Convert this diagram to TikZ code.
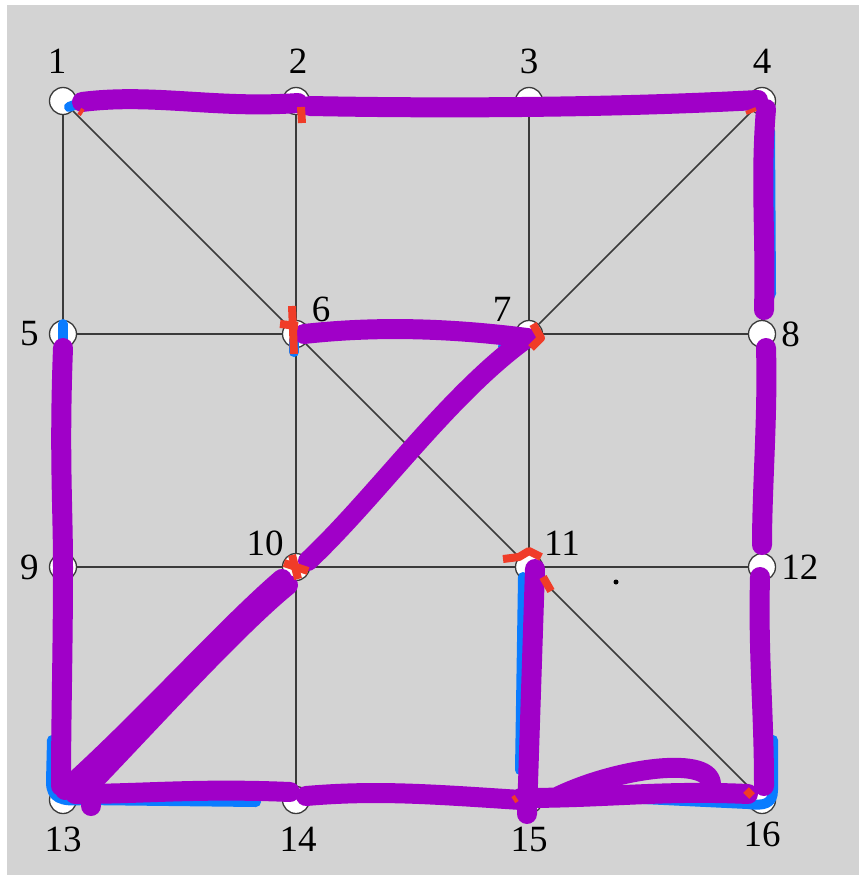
\documentclass[tikz,border=0pt]{standalone}
\usepackage{fontspec}
\setmainfont{Liberation Serif}
\usetikzlibrary{positioning,backgrounds}
\definecolor{bggrey}{HTML}{D3D3D3}
\definecolor{edgegrey}{HTML}{3A3A3A}
\definecolor{pen}{HTML}{A000C8}
\definecolor{penblue}{HTML}{0A7CFF}
\definecolor{penred}{HTML}{F03C28}

\begin{document}
\begin{tikzpicture}[
  x=1pt, y=-1pt,
  vtx/.style={circle, draw=edgegrey, line width=1.3pt, fill=white, minimum size=27pt, inner sep=0pt},
  lbl/.style={font=\fontsize{37}{37}\selectfont, inner sep=0pt, text=black},
  edge/.style={draw=edgegrey, line width=1.5pt},
  scrib/.style={draw=pen, line width=20pt, line cap=round, line join=round},
  bscrib/.style={draw=penblue, line width=10pt, line cap=round, line join=round},
  redmark/.style={draw=penred, line width=8pt, line join=round},
]
\useasboundingbox (0,0) rectangle (859,875);

% ---------- vertices ----------
\node[vtx] (n1)  at (63,101)  {};
\node[vtx] (n2)  at (296,101) {};
\node[vtx] (n3)  at (529,101) {};
\node[vtx] (n4)  at (762,101) {};
\node[vtx] (n5)  at (63,334)  {};
\node[vtx] (n6)  at (296,334) {};
\node[vtx] (n7)  at (529,334) {};
\node[vtx] (n8)  at (762,334) {};
\node[vtx] (n9)  at (63,567)  {};
\node[vtx] (n10) at (296,567) {};
\node[vtx] (n11) at (529,567) {};
\node[vtx] (n12) at (762,567) {};
\node[vtx] (n13) at (63,800)  {};
\node[vtx] (n14) at (296,800) {};
\node[vtx] (n15) at (529,800) {};
\node[vtx] (n16) at (762,800) {};

% ---------- labels ----------
\node[lbl] (l1)  at (57,61)   {1};
\node[lbl] (l2)  at (298,61)  {2};
\node[lbl] (l3)  at (529,61)  {3};
\node[lbl] (l4)  at (762,61)  {4};
\node[lbl, left=10pt of n5]  (l5) {5};
\node[lbl] (l6)  at (321,309) {6};
\node[lbl] (l7)  at (502,309) {7};
\node[lbl, right=5pt of n8]  (l8) {8};
\node[lbl, left=10pt of n9]  (l9) {9};
\node[lbl] (l10) at (265,543) {10};
\node[lbl] (l11) at (562,543) {11};
\node[lbl, right=5pt of n12] (l12) {12};
\node[lbl] (l13) at (63,839)  {13};
\node[lbl] (l14) at (298,839) {14};
\node[lbl] (l15) at (529,839) {15};
\node[lbl] (l16) at (762,834) {16};

\node[circle, fill=black, inner sep=0pt, minimum size=5pt] (dot) at (616,582) {};

% ---------- grid (background) ----------
\begin{scope}[on background layer]
  \fill[bggrey] (7,5) rectangle (859,875);
  \draw[edge] (n1) -- (n2) -- (n3) -- (n4);
  \draw[edge] (n5) -- (n6) -- (n7) -- (n8);
  \draw[edge] (n9) -- (n10) -- (n11) -- (n12);
  \draw[edge] (n13) -- (n14) -- (n15) -- (n16);
  \draw[edge] (n1) -- (n5) -- (n9) -- (n13);
  \draw[edge] (n2) -- (n6) -- (n10) -- (n14);
  \draw[edge] (n3) -- (n7) -- (n11) -- (n15);
  \draw[edge] (n4) -- (n8) -- (n12) -- (n16);
  \draw[edge] (n1) -- (n6) -- (n11) -- (n16);
  \draw[edge] (n4) -- (n7) -- (n10) -- (n13);
\end{scope}

% ---------- blue strokes ----------
\draw[bscrib] ([shift={(6,6)}]n1.center) -- ([shift={(22,0)}]n1.center);
\draw[bscrib] ([shift={(0,-10)}]n5.center) -- ([shift={(0,12)}]n5.center);
\draw[bscrib] ([shift={(-11,-60)}]n13.center) -- ([shift={(-12,-18)}]n13.center)
  .. controls ([shift={(-12,-2)}]n13.center) and ([shift={(-2,2)}]n13.center) .. ([shift={(20,0)}]n13.center)
  -- ([shift={(-40,2)}]n14.center);
\draw[bscrib] ([shift={(11,-60)}]n16.center) -- ([shift={(11,-10)}]n16.center)
  .. controls ([shift={(11,4)}]n16.center) and ([shift={(2,6)}]n16.center) .. ([shift={(-14,4)}]n16.center)
  -- ([shift={(-140,-2)}]n16.center);
\draw[bscrib] ([shift={(-6,10)}]n11.center) -- ([shift={(-9,-30)}]n15.center);
\draw[bscrib] ([shift={(8,30)}]n4.center) -- ([shift={(9,-40)}]n8.center);
\draw[bscrib] ([shift={(-2,6)}]n6.center) -- ([shift={(-2,18)}]n6.center);
\draw[bscrib] ([shift={(-26,12)}]n7.center) -- ([shift={(-12,10)}]n7.center);

% ---------- purple strokes ----------
\draw[scrib] ([shift={(19,1)}]n1.center)
  .. controls ([shift={(90,-8)}]n1.center) and ([shift={(-80,8)}]n2.center) .. ([shift={(2,2)}]n2.center);
\draw[scrib] ([shift={(14,5)}]n2.center)
  .. controls ([shift={(-120,7)}]n3.center) and ([shift={(60,8)}]n3.center) .. ([shift={(-4,-1)}]n4.center);
\draw[scrib] ([shift={(4,8)}]n4.center)
  .. controls ([shift={(-2,80)}]n4.center) and ([shift={(4,-100)}]n8.center) .. ([shift={(2,-24)}]n8.center);
\draw[scrib] ([shift={(4,14)}]n8.center)
  .. controls ([shift={(6,80)}]n8.center) and ([shift={(0,-80)}]n12.center) .. ([shift={(0,-22)}]n12.center);
\draw[scrib] ([shift={(-2,10)}]n12.center)
  .. controls ([shift={(-4,90)}]n12.center) and ([shift={(2,-90)}]n16.center) .. ([shift={(2,-14)}]n16.center);
\draw[scrib] ([shift={(-14,-6)}]n16.center)
  .. controls ([shift={(-100,-10)}]n16.center) and ([shift={(80,-2)}]n15.center) .. ([shift={(-8,-2)}]n15.center);
\draw[scrib] ([shift={(30,-4)}]n15.center)
  .. controls ([shift={(-140,-34)}]n16.center) and ([shift={(-40,-46)}]n16.center) .. ([shift={(-52,-10)}]n16.center);
\draw[scrib] ([shift={(-8,0)}]n15.center)
  .. controls ([shift={(-100,-6)}]n15.center) and ([shift={(80,-10)}]n14.center) .. ([shift={(10,-4)}]n14.center);
\draw[scrib] ([shift={(-6,-8)}]n14.center)
  .. controls ([shift={(-100,-12)}]n14.center) and ([shift={(80,-6)}]n13.center) .. ([shift={(12,-6)}]n13.center);
\draw[scrib] ([shift={(28,-6)}]n13.center) -- ([shift={(28,6)}]n13.center);
\draw[scrib] ([shift={(2,-10)}]n13.center)
  .. controls ([shift={(80,-80)}]n13.center) and ([shift={(-70,60)}]n10.center) .. ([shift={(-14,12)}]n10.center);
\draw[scrib] ([shift={(18,-6)}]n13.center)
  .. controls ([shift={(80,-70)}]n13.center) and ([shift={(-60,60)}]n10.center) .. ([shift={(-8,18)}]n10.center);
\draw[scrib] ([shift={(12,-6)}]n10.center)
  .. controls ([shift={(80,-70)}]n10.center) and ([shift={(-80,60)}]n7.center) .. ([shift={(-2,4)}]n7.center);
\draw[scrib] ([shift={(-2,4)}]n7.center)
  .. controls ([shift={(-80,-6)}]n7.center) and ([shift={(80,-8)}]n6.center) .. ([shift={(8,0)}]n6.center);
\draw[scrib] ([shift={(0,14)}]n5.center)
  .. controls ([shift={(-4,120)}]n5.center) and ([shift={(0,-60)}]n9.center) .. ([shift={(0,0)}]n9.center)
  .. controls ([shift={(0,80)}]n9.center) and ([shift={(-2,-80)}]n13.center) .. ([shift={(-2,-14)}]n13.center);
\draw[scrib] ([shift={(6,2)}]n11.center) -- ([shift={(-2,14)}]n15.center);

% ---------- red marks ----------
\draw[redmark] ([shift={(5,6)}]n2.center) -- ([shift={(6,22)}]n2.center);
\draw[redmark] ([shift={(-4,-28)}]n6.center) -- ([shift={(-2,20)}]n6.center);
\draw[redmark] ([shift={(-16,-10)}]n6.center) -- ([shift={(2,-8)}]n6.center);
\draw[redmark] ([shift={(4,-10)}]n7.center) -- ([shift={(12,4)}]n7.center) -- ([shift={(2,14)}]n7.center);
\draw[redmark] ([shift={(-12,-4)}]n10.center) -- ([shift={(12,4)}]n10.center);
\draw[redmark] ([shift={(-4,-12)}]n10.center) -- ([shift={(2,12)}]n10.center);
\draw[redmark] ([shift={(-26,-8)}]n11.center) -- ([shift={(-10,-10)}]n11.center) -- ([shift={(0,-16)}]n11.center) -- ([shift={(12,-10)}]n11.center);
\draw[redmark] ([shift={(14,10)}]n11.center) -- ([shift={(22,24)}]n11.center);
\draw[redmark] ([shift={(-16,-10)}]n16.center) -- ([shift={(-10,-4)}]n16.center);
\draw[redmark, line width=4pt] ([shift={(-16,12)}]n4.center) -- ([shift={(-6,8)}]n4.center);
\draw[redmark, line width=4pt] ([shift={(16,14)}]n1.center) -- ([shift={(20,8)}]n1.center);
\draw[redmark, line width=4pt] ([shift={(-16,-4)}]n15.center) -- ([shift={(-12,2)}]n15.center);
\end{tikzpicture}
\end{document}
